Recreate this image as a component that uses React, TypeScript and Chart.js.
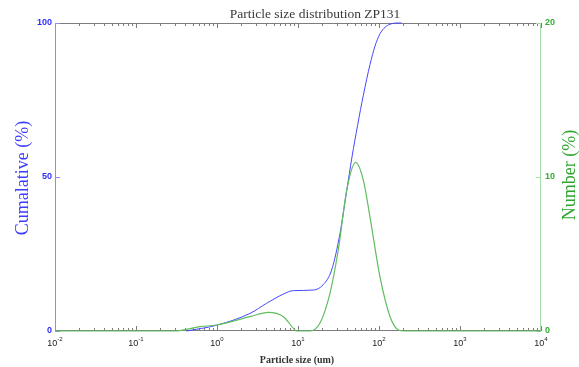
import React, { useEffect, useRef } from "react";
import { Chart, registerables } from "chart.js";

Chart.register(...registerables);

const chartTitle = "Particle size distribution ZP131";
const xAxisTitle = "Particle size (um)";
const leftAxisTitle = "Cumalative (%)";
const rightAxisTitle = "Number (%)";

const xTickValues = [0.01, 0.1, 1, 10, 100, 1000, 10000];
const xTickExponents = ["-2", "-1", "0", "1", "2", "3", "4"];
const cumulativeTicks = [0, 50, 100];
const numberTicks = [0, 10, 20];

const cumulativeSizes = [0.42, 1.0, 2.55, 4.1, 6.6, 8.75, 15.5, 20.4, 26, 33, 39.9, 46.4, 54.6, 64, 77.4, 89.3, 102.8, 118.6, 136.8, 171.8, 190];
const cumulativeValues = [0, 1.9, 5.7, 9, 12, 13.1, 13.3, 15, 19.8, 31.7, 45.5, 56.5, 67, 76.5, 86.5, 92.5, 96.5, 98.6, 99.6, 100, 100];

const numberSizes = [0.01, 0.3, 0.62, 1.0, 2.55, 4.3, 6.6, 9.2, 9.6, 14, 18.6, 24.8, 31.4, 40, 51.5, 64, 77.4, 103, 137, 174, 200, 10000];
const numberValues = [0, 0, 0.28, 0.39, 0.93, 1.21, 0.93, 0.06, 0, 0, 0.5, 2.45, 5.26, 9.16, 10.95, 9.8, 7.4, 3.5, 0.93, 0.06, 0, 0];

const BLUE_LINE = "rgb(70,70,255)";
const GREEN_LINE = "rgb(95,190,95)";
const BLUE_AXIS = "rgb(140,140,255)";
const GREEN_AXIS = "rgb(165,222,165)";
const GREY_AXIS = "rgb(125,125,125)";

const decorPlugin = {
  id: "decor",
  beforeDatasetsDraw(chart: any) {
    const { ctx, chartArea: a, scales } = chart;
    const x = scales.x;
    const y = scales.y;
    const y1 = scales.y1;
    ctx.save();
    ctx.lineWidth = 1;
    ctx.strokeStyle = GREY_AXIS;
    ctx.beginPath();
    ctx.moveTo(a.left, a.top + 0.5);
    ctx.lineTo(a.right, a.top + 0.5);
    ctx.moveTo(a.left, a.bottom - 0.5);
    ctx.lineTo(a.right, a.bottom - 0.5);
    ctx.stroke();
    ctx.beginPath();
    for (let i = 0; i < xTickValues.length; i++) {
      const base = xTickValues[i];
      const px = Math.round(x.getPixelForValue(base)) + 0.5;
      ctx.moveTo(px, a.bottom);
      ctx.lineTo(px, a.bottom - 5);
      ctx.moveTo(px, a.top);
      ctx.lineTo(px, a.top + 5);
      if (i < xTickValues.length - 1) {
        for (let m = 2; m <= 9; m++) {
          const mx = Math.round(x.getPixelForValue(base * m)) + 0.5;
          ctx.moveTo(mx, a.bottom);
          ctx.lineTo(mx, a.bottom - 3);
          ctx.moveTo(mx, a.top);
          ctx.lineTo(mx, a.top + 3);
        }
      }
    }
    ctx.stroke();
    ctx.strokeStyle = BLUE_AXIS;
    ctx.beginPath();
    ctx.moveTo(a.left + 0.5, a.top);
    ctx.lineTo(a.left + 0.5, a.bottom);
    for (const v of cumulativeTicks) {
      const py = Math.round(y.getPixelForValue(v)) + 0.5;
      ctx.moveTo(a.left, py);
      ctx.lineTo(a.left + 5, py);
    }
    ctx.stroke();
    ctx.strokeStyle = GREEN_AXIS;
    ctx.beginPath();
    ctx.moveTo(a.right - 0.5, a.top);
    ctx.lineTo(a.right - 0.5, a.bottom);
    for (const v of numberTicks) {
      const py = Math.round(y1.getPixelForValue(v)) + 0.5;
      ctx.moveTo(a.right, py);
      ctx.lineTo(a.right - 5, py);
    }
    ctx.stroke();
    ctx.restore();
  },
  afterDraw(chart: any) {
    const { ctx, chartArea: a, scales } = chart;
    const x = scales.x;
    ctx.save();
    ctx.fillStyle = "#222";
    ctx.textBaseline = "alphabetic";
    for (let i = 0; i < xTickValues.length; i++) {
      const px = x.getPixelForValue(xTickValues[i]);
      ctx.font = "9px 'Liberation Sans', Arial, sans-serif";
      const wBase = ctx.measureText("10").width;
      ctx.font = "6px 'Liberation Sans', Arial, sans-serif";
      const wExp = ctx.measureText(xTickExponents[i]).width;
      const start = px - (wBase + wExp) / 2;
      ctx.textAlign = "left";
      ctx.font = "9px 'Liberation Sans', Arial, sans-serif";
      ctx.fillText("10", start, a.bottom + 15);
      ctx.font = "6px 'Liberation Sans', Arial, sans-serif";
      ctx.fillText(xTickExponents[i], start + wBase, a.bottom + 10);
    }
    ctx.textAlign = "center";
    ctx.fillStyle = "#3a3a3a";
    ctx.font = "13.5px 'Liberation Serif', 'Times New Roman', serif";
    ctx.fillText(chartTitle, 315, 17.5);
    ctx.font = "bold 10px 'Liberation Serif', 'Times New Roman', serif";
    ctx.fillStyle = "#333";
    ctx.fillText(xAxisTitle, 297, 363);
    ctx.textBaseline = "middle";
    ctx.font = "18px 'Liberation Serif', 'Times New Roman', serif";
    ctx.save();
    ctx.translate(23, (a.top + a.bottom) / 2 + 1);
    ctx.rotate(-Math.PI / 2);
    ctx.fillStyle = "rgb(60,60,255)";
    ctx.fillText(leftAxisTitle, 0, 0);
    ctx.restore();
    ctx.save();
    ctx.translate(570, (a.top + a.bottom) / 2 - 2);
    ctx.rotate(-Math.PI / 2);
    ctx.fillStyle = "rgb(45,165,45)";
    ctx.fillText(rightAxisTitle, 0, 0);
    ctx.restore();
    ctx.restore();
  },
};

export default function App() {
  const canvasRef = useRef<HTMLCanvasElement | null>(null);

  useEffect(() => {
    const canvas = canvasRef.current;
    if (!canvas) return;
    const cumulativeData = cumulativeSizes.map((s, i) => ({ x: s, y: cumulativeValues[i] }));
    const numberData = numberSizes.map((s, i) => ({ x: s, y: numberValues[i] }));
    const chart = new Chart(canvas, {
      type: "line",
      data: {
        datasets: [
          {
            label: "Cumulative",
            data: cumulativeData,
            yAxisID: "y",
            borderColor: BLUE_LINE,
            borderWidth: 1,
            pointRadius: 0,
            cubicInterpolationMode: "monotone",
            fill: false,
            clip: 3,
            order: 2,
          },
          {
            label: "Number",
            data: numberData,
            yAxisID: "y1",
            borderColor: GREEN_LINE,
            borderWidth: 1.2,
            pointRadius: 0,
            cubicInterpolationMode: "monotone",
            fill: false,
            clip: 3,
            order: 1,
          },
        ],
      } as any,
      options: {
        responsive: false,
        animation: false,
        devicePixelRatio: 1,
        layout: { padding: { top: 23, left: 0, right: 0, bottom: 0 } },
        plugins: {
          legend: { display: false },
          title: { display: false },
          tooltip: { enabled: false },
        },
        scales: {
          x: {
            type: "logarithmic",
            min: 0.01,
            max: 10000,
            grid: { display: false, drawTicks: false },
            border: { display: false },
            ticks: { display: false },
            afterBuildTicks: (scale: any) => {
              scale.ticks = xTickValues.map((v) => ({ value: v, major: true }));
            },
            afterFit: (scale: any) => {
              scale.height = 36;
            },
          },
          y: {
            type: "linear",
            position: "left",
            min: 0,
            max: 100,
            grid: { display: false, drawTicks: false },
            border: { display: false },
            ticks: {
              color: "rgb(45,45,255)",
              font: { family: "'Liberation Sans', Arial, sans-serif", size: 9, weight: "bold" },
              padding: 3,
            },
            afterBuildTicks: (scale: any) => {
              scale.ticks = cumulativeTicks.map((v) => ({ value: v }));
            },
            afterFit: (scale: any) => {
              scale.width = 55;
            },
          },
          y1: {
            type: "linear",
            position: "right",
            min: 0,
            max: 20,
            grid: { display: false, drawTicks: false },
            border: { display: false },
            ticks: {
              color: "rgb(50,175,50)",
              font: { family: "'Liberation Sans', Arial, sans-serif", size: 9, weight: "bold" },
              padding: 4,
            },
            afterBuildTicks: (scale: any) => {
              scale.ticks = numberTicks.map((v) => ({ value: v }));
            },
            afterFit: (scale: any) => {
              scale.width = 38;
            },
          },
        },
      } as any,
      plugins: [decorPlugin],
    });
    return () => chart.destroy();
  }, []);

  return (
    <div style={{ position: "absolute", left: 0, top: 0, width: 579, height: 367, background: "#fff" }}>
      <canvas ref={canvasRef} width={579} height={367} style={{ display: "block" }} />
    </div>
  );
}
